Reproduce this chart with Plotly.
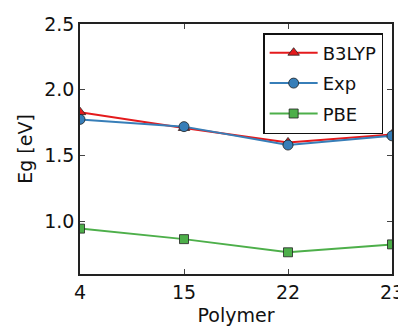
import plotly.graph_objects as go

polymers = ["4", "15", "22", "23"]
b3lyp = [1.83, 1.71, 1.60, 1.66]
exp_vals = [1.775, 1.72, 1.58, 1.65]
pbe = [0.945, 0.865, 0.765, 0.825]

x = list(range(len(polymers)))

fig = go.Figure()
series = [
    ("B3LYP", b3lyp, "#e41a1c", "triangle-up", 10),
    ("Exp", exp_vals, "#377eb8", "circle", 10),
    ("PBE", pbe, "#4daf4a", "square", 9),
]
for name, ys, col, sym, sz in series:
    fig.add_trace(go.Scatter(
        x=x, y=ys, name=name, mode="lines+markers", legendgroup=name,
        line=dict(color=col, width=2),
        marker=dict(symbol=sym, size=sz, color=col, line=dict(color="#222", width=0.8)),
        cliponaxis=True,
    ))

axis_common = dict(
    showline=True, linecolor="#222", linewidth=1.5, mirror="ticks",
    ticks="inside", ticklen=5, tickwidth=1, tickcolor="#444",
    showgrid=False, zeroline=False, automargin=False,
    tickfont=dict(family="DejaVu Sans", size=19, color="#111"),
)

fig.update_xaxes(
    **axis_common,
    range=[0, 3], tickvals=x, ticktext=polymers,
    title=dict(text="Polymer", font=dict(family="DejaVu Sans", size=19, color="#111"), standoff=16),
)
fig.update_yaxes(
    **axis_common,
    range=[0.6, 2.5], tickvals=[1.0, 1.5, 2.0, 2.5], ticktext=["1.0", "1.5", "2.0", "2.5"],
    title=dict(text="Eg [eV]", font=dict(family="DejaVu Sans", size=19, color="#111"), standoff=7),
)

fig.update_layout(
    width=398, height=318,
    margin=dict(l=72, r=14, t=16, b=52),
    plot_bgcolor="white", paper_bgcolor="white",
    showlegend=True,
    legend=dict(
        x=0.587, y=0.964, xanchor="left", yanchor="top",
        bgcolor="white", bordercolor="#111", borderwidth=1.5,
        font=dict(family="DejaVu Sans", size=18, color="#111"),
        itemwidth=48, tracegroupgap=4,
    ),
)

fig.write_html("out.html")
